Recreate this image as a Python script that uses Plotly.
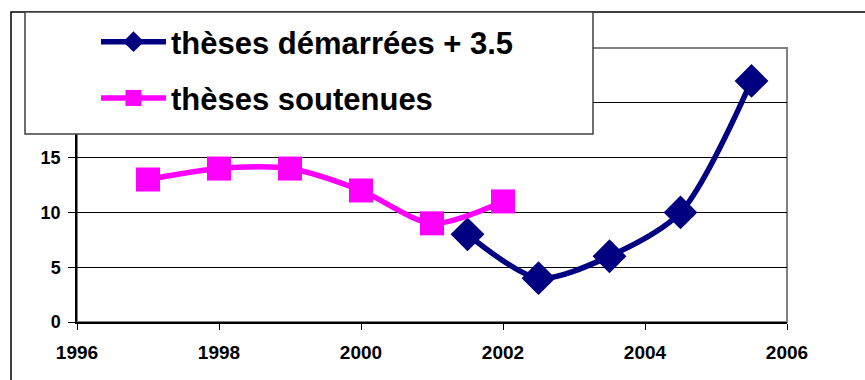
import plotly.graph_objects as go

# Thèses soutenues par année
years_soutenues = [1997, 1998, 1999, 2000, 2001, 2002]
soutenues = [13, 14, 14, 12, 9, 11]

# Thèses démarrées, décalées de 3.5 ans
years_demarrees = [2001.5, 2002.5, 2003.5, 2004.5, 2005.5]
demarrees = [8, 4, 6, 10, 22]

x_ticks = [1996, 1998, 2000, 2002, 2004, 2006]
y_ticks = [0, 5, 10, 15, 20, 25]

NAVY = "#000080"
MAGENTA = "#FF00FF"
FONT = "Liberation Sans, Arial, sans-serif"

fig = go.Figure()

fig.add_trace(go.Scatter(
    x=years_demarrees, y=demarrees, mode="lines+markers",
    name="<b>thèses démarrées + 3.5</b>",
    line=dict(color=NAVY, width=5.5, shape="spline", smoothing=0.8),
    marker=dict(symbol="diamond", size=26, color=NAVY),
    legendgroup="a",
))
fig.add_trace(go.Scatter(
    x=years_soutenues, y=soutenues, mode="lines+markers",
    name="<b>thèses soutenues</b>",
    line=dict(color=MAGENTA, width=5.5, shape="spline", smoothing=0.8),
    marker=dict(symbol="square", size=24, color=MAGENTA),
    legendgroup="b",
))

shapes = [
    # cadre extérieur du graphique
    dict(type="rect", xref="paper", yref="paper",
         x0=(11 - 77) / 710, x1=1.2, y0=-0.3, y1=1 + (48 - 12) / 274,
         line=dict(color="black", width=1.5), fillcolor="rgba(0,0,0,0)", layer="below"),
    # bordure grise de la zone de tracé
    dict(type="rect", xref="paper", yref="paper", x0=0, x1=1, y0=0, y1=1,
         line=dict(color="#808080", width=2), layer="below"),
    # boîte de légende
    dict(type="rect", xref="paper", yref="paper",
         x0=(25 - 77) / 710, x1=(593 - 77) / 710,
         y0=1 - (134 - 48) / 274, y1=1 + (48 - 12) / 274,
         line=dict(color="#404040", width=1.5), fillcolor="white", layer="above"),
]

fig.update_layout(
    width=865, height=380,
    margin=dict(l=77, r=78, t=48, b=58),
    paper_bgcolor="white", plot_bgcolor="white",
    font=dict(family=FONT, color="black"),
    showlegend=True,
    shapes=shapes,
    legend=dict(
        x=(96 - 77) / 710, y=1 + (48 - 15) / 274, xanchor="left", yanchor="top",
        bgcolor="rgba(0,0,0,0)", borderwidth=0,
        font=dict(size=31, family=FONT, color="black"),
        itemwidth=65, tracegroupgap=13, traceorder="grouped",
    ),
    xaxis=dict(
        range=[1996, 2006], tickvals=x_ticks, ticktext=[f"<b>{t}</b>" for t in x_ticks],
        showgrid=False, zeroline=False, showline=True, linecolor="black", linewidth=1.5,
        ticks="outside", ticklen=6, tickcolor="black",
        tickfont=dict(size=19, family=FONT), ticklabelstandoff=6,
    ),
    yaxis=dict(
        range=[0, 25], tickvals=y_ticks, ticktext=[f"<b>{t}</b>" for t in y_ticks],
        showgrid=True, gridcolor="black", gridwidth=1, zeroline=False,
        showline=True, linecolor="black", linewidth=1.5,
        ticks="outside", ticklen=7, tickcolor="black",
        tickfont=dict(size=18, family=FONT), ticklabelstandoff=4,
    ),
)

fig.write_html("out.html")
